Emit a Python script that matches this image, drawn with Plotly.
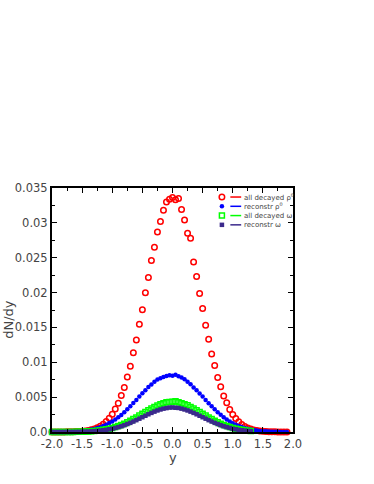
import plotly.graph_objects as go

# rapidity bins
y_rho = [round(-2.0 + 0.05 * i, 2) for i in range(79)]   # -2.0 .. 1.9
y_omega = [round(-2.0 + 0.05 * i, 2) for i in range(67)]  # -2.0 .. 1.3

all_decayed_rho = [
    0.0, 0.0, 0.0, 0.0, 0.00001, 0.00002, 0.00003, 0.00004, 0.00006, 0.00008,
    0.00011, 0.00016, 0.00022, 0.00031, 0.00044, 0.00060, 0.00083, 0.00111, 0.00150, 0.00196,
    0.00256, 0.00330, 0.00412, 0.00525, 0.00640, 0.00790, 0.00942, 0.01135, 0.01320, 0.01545,
    0.01755, 0.01998, 0.02215, 0.02460, 0.02650, 0.02870, 0.03020, 0.03180, 0.03300, 0.03340,
    0.03365, 0.03330, 0.03350, 0.03190, 0.03040, 0.02850, 0.02780, 0.02440, 0.02230, 0.01985,
    0.01770, 0.01530, 0.01330, 0.01120, 0.00955, 0.00780, 0.00648, 0.00515, 0.00418, 0.00322,
    0.00252, 0.00192, 0.00147, 0.00108, 0.00080, 0.00058, 0.00042, 0.00029, 0.00020, 0.00014,
    0.00009, 0.00006, 0.00004, 0.00003, 0.00002, 0.00001, 0.0, 0.0, 0.0,
]

reconstr_rho = [
    0.0, 0.0, 0.0, 0.00001, 0.00002, 0.00003, 0.00005, 0.00007, 0.00009, 0.00012,
    0.00016, 0.00021, 0.00028, 0.00035, 0.00044, 0.00057, 0.00069, 0.00086, 0.00105, 0.00128,
    0.00151, 0.00180, 0.00212, 0.00245, 0.00285, 0.00325, 0.00370, 0.00415, 0.00460, 0.00508,
    0.00555, 0.00600, 0.00645, 0.00680, 0.00720, 0.00752, 0.00770, 0.00790, 0.00805, 0.00815,
    0.00808, 0.00820, 0.00800, 0.00780, 0.00755, 0.00720, 0.00685, 0.00640, 0.00600, 0.00552,
    0.00508, 0.00460, 0.00412, 0.00368, 0.00325, 0.00284, 0.00246, 0.00212, 0.00180, 0.00152,
    0.00127, 0.00105, 0.00086, 0.00070, 0.00056, 0.00045, 0.00035, 0.00028, 0.00021, 0.00016,
    0.00012, 0.00009, 0.00007, 0.00005, 0.00003, 0.00002, 0.00001, 0.0, 0.0,
]

all_decayed_omega = [
    0.0, 0.0, 0.0, 0.0, 0.0, 0.0, 0.00001, 0.00001, 0.00002, 0.00003,
    0.00004, 0.00006, 0.00008, 0.00011, 0.00015, 0.00019, 0.00024, 0.00031, 0.00038, 0.00047,
    0.00058, 0.00071, 0.00085, 0.00101, 0.00120, 0.00140, 0.00161, 0.00185, 0.00209, 0.00235,
    0.00261, 0.00287, 0.00312, 0.00337, 0.00359, 0.00379, 0.00397, 0.00411, 0.00425, 0.00432,
    0.00435, 0.00440, 0.00425, 0.00411, 0.00397, 0.00382, 0.00359, 0.00337, 0.00312, 0.00287,
    0.00261, 0.00235, 0.00209, 0.00185, 0.00161, 0.00140, 0.00120, 0.00101, 0.00085, 0.00071,
    0.00058, 0.00047, 0.00038, 0.00031, 0.00024, 0.00019, 0.00015,
]

reconstr_omega = [
    0.0, 0.0, 0.0, 0.0, 0.0, 0.0, 0.0, 0.00001, 0.00001, 0.00002,
    0.00003, 0.00005, 0.00006, 0.00009, 0.00012, 0.00015, 0.00020, 0.00025, 0.00031, 0.00039,
    0.00047, 0.00058, 0.00069, 0.00082, 0.00097, 0.00114, 0.00131, 0.00150, 0.00170, 0.00191,
    0.00212, 0.00233, 0.00254, 0.00274, 0.00292, 0.00309, 0.00323, 0.00335, 0.00343, 0.00350,
    0.00352, 0.00348, 0.00345, 0.00335, 0.00323, 0.00309, 0.00292, 0.00274, 0.00254, 0.00233,
    0.00212, 0.00191, 0.00170, 0.00150, 0.00131, 0.00114, 0.00097, 0.00082, 0.00069, 0.00058,
    0.00047, 0.00039, 0.00031, 0.00025, 0.00020, 0.00015, 0.00012,
]

series_names = ["all decayed ρ<sup>0</sup>", "reconstr ρ<sup>0</sup>",
                "all decayed ω", "reconstr ω"]
colors = ["#ff0000", "#0000ff", "#00ff00", "#3b2a8c"]

y_ticks = [0.0, 0.005, 0.01, 0.015, 0.02, 0.025, 0.03, 0.035]
y_tick_labels = ["0.0", "0.005", "0.01", "0.015", "0.02", "0.025", "0.03", "0.035"]
x_ticks = [-2.0, -1.5, -1.0, -0.5, 0.0, 0.5, 1.0, 1.5, 2.0]
x_tick_labels = ["-2.0", "-1.5", "-1.0", "-0.5", "0.0", "0.5", "1.0", "1.5", "2.0"]

marker_styles = [
    dict(symbol="circle-open", size=5.5, line=dict(width=1.5, color=colors[0]), color=colors[0]),
    dict(symbol="circle", size=4.5, color=colors[1]),
    dict(symbol="square-open", size=5, line=dict(width=1.5, color=colors[2]), color=colors[2]),
    dict(symbol="square", size=4.5, color=colors[3]),
]

data_x = [y_rho, y_rho, y_omega, y_omega]
data_y = [all_decayed_rho, reconstr_rho, all_decayed_omega, reconstr_omega]

fig = go.Figure()
for xs, ys, name, m in zip(data_x, data_y, series_names, marker_styles):
    fig.add_trace(go.Scatter(x=xs, y=ys, mode="markers", name=name, marker=m,
                             cliponaxis=False, showlegend=False))

# hand-made legend (marker, line, label) inside the top-right corner
leg_rows = [0.963, 0.925, 0.887, 0.849]
for row, name, m, c in zip(leg_rows, series_names, marker_styles, colors):
    fig.add_trace(go.Scatter(x=[0.705], y=[row], mode="markers", marker=m,
                             xaxis="x2", yaxis="y2", showlegend=False, hoverinfo="skip"))
    fig.add_shape(type="line", xref="paper", yref="paper", x0=0.74, x1=0.785,
                  y0=row, y1=row, line=dict(color=c, width=1.5))
    fig.add_annotation(text=name, xref="paper", yref="paper", x=0.79, y=row,
                       xanchor="left", yanchor="middle", showarrow=False,
                       font=dict(size=7, color="#444444"))

# axis titles
fig.add_annotation(text="dN/dy", xref="paper", yref="paper", x=0, y=0.46,
                   xanchor="center", yanchor="middle", xshift=-43, textangle=-90,
                   showarrow=False, font=dict(size=13, color="#444444"))
fig.add_annotation(text="y", xref="paper", yref="paper", x=0.5, y=0,
                   xanchor="center", yanchor="top", yshift=-16,
                   showarrow=False, font=dict(size=13, color="#444444"))

axis_common = dict(showline=True, linewidth=2, linecolor="black", mirror="ticks",
                   ticks="inside", ticklen=5, tickwidth=1.2, tickcolor="black",
                   showgrid=False, zeroline=False, automargin=False,
                   tickfont=dict(size=11.5, color="#444444"))

fig.update_layout(
    width=374, height=484,
    margin=dict(l=52, r=81, t=188, b=52),
    paper_bgcolor="white", plot_bgcolor="white",
    font=dict(family="DejaVu Sans", color="#444444"),
    showlegend=False,
    xaxis=dict(range=[-2.0, 2.0], tickvals=x_ticks, ticktext=x_tick_labels,
               minor=dict(ticks="inside", ticklen=3, dtick=0.25, tickcolor="black", showgrid=False),
               **axis_common),
    yaxis=dict(range=[0.0, 0.035], tickvals=y_ticks, ticktext=y_tick_labels,
               minor=dict(ticks="inside", ticklen=3, dtick=0.0025, tickcolor="black", showgrid=False),
               **axis_common),
    xaxis2=dict(range=[0, 1], overlaying="x", visible=False, anchor="y2"),
    yaxis2=dict(range=[0, 1], overlaying="y", visible=False, anchor="x2"),
)

fig.write_html("out.html", config={"displayModeBar": False},
               post_script="document.body.style.margin='0';")
